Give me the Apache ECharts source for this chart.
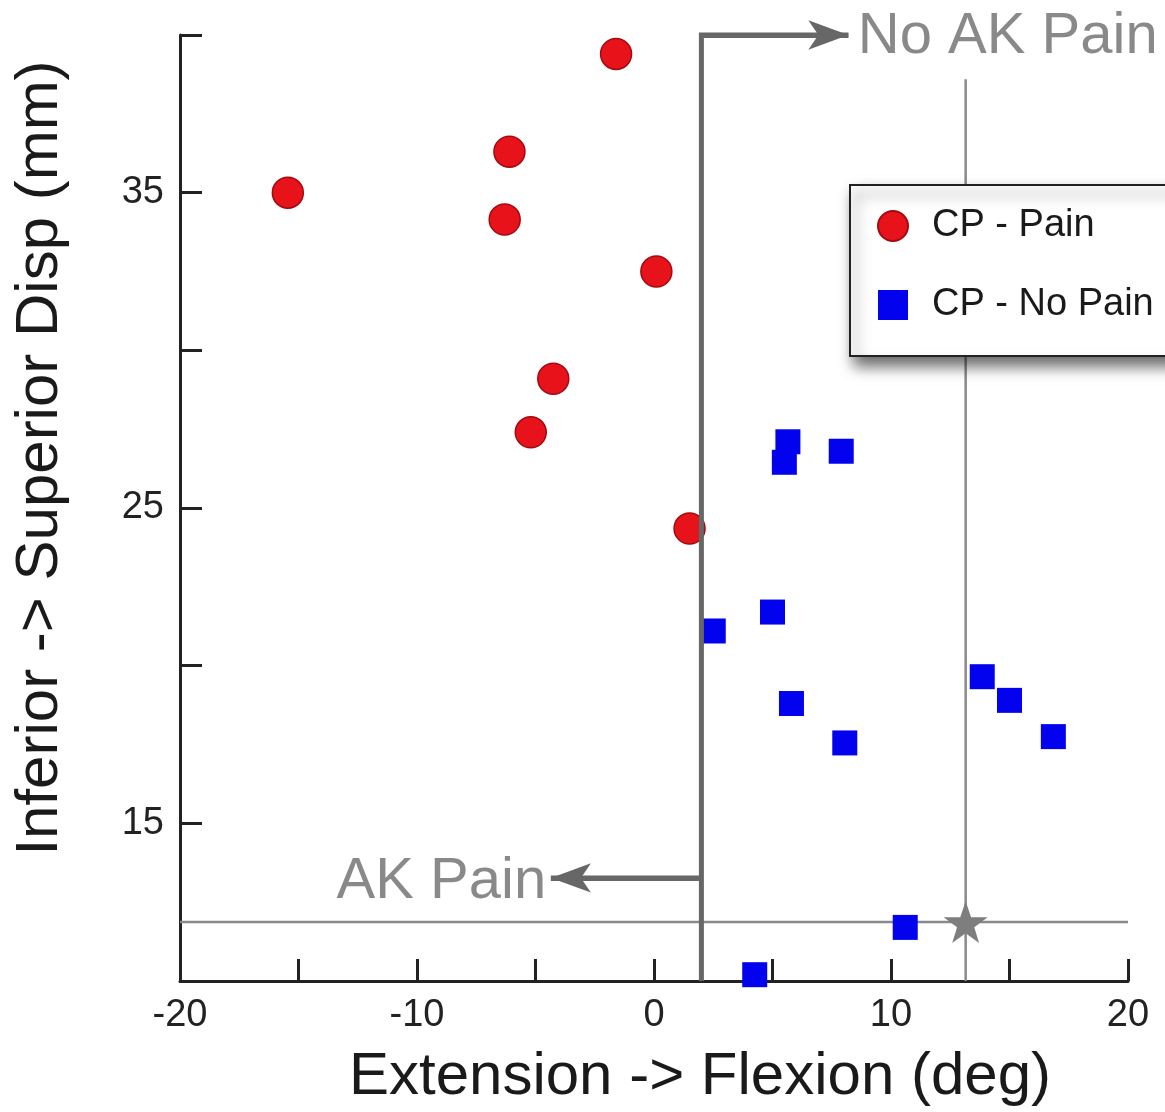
<!DOCTYPE html>
<html>
<head>
<meta charset="utf-8">
<title>CP pain vs flexion</title>
<script src="https://cdn.jsdelivr.net/npm/echarts@6/dist/echarts.min.js"></script>
<style>
  html, body { margin: 0; padding: 0; background: #fff; }
  #chart { width: 1165px; height: 1112px; }
</style>
</head>
<body>
<div id="chart"></div>
<script>
  // [extension -> flexion (deg), inferior -> superior disp (mm)]
  var painPoints = [
    [-1.6, 39.4], [-6.1, 36.3], [-15.45, 35.0], [-6.3, 34.15],
    [0.1, 32.5], [-4.25, 29.1], [-5.2, 27.4], [1.5, 24.35]
  ]
  var noPainPoints = [
    [5.65, 27.1], [5.5, 26.45], [7.9, 26.8], [2.5, 21.1], [5.0, 21.7],
    [5.8, 18.8], [8.05, 17.55], [13.85, 19.65], [15.0, 18.9], [16.85, 17.75],
    [10.6, 11.7], [4.25, 10.2]
  ]
  var starPoint = [[13.15, 11.87]]

  // threshold / annotation lines (arrow tip at the last point)
  var boundaryPath = [[2, 10], [2, 40], [8.2, 40]]
  var akPainArrow = [[2, 13.27], [-4.35, 13.27]]
  var starVertical = [[13.15, 38.6], [13.15, 10]]
  var starHorizontal = [[-20, 11.87], [20, 11.87]]
  var annotations = [
    { name: 'No AK Pain', value: [8.6, 39.93], pos: 'right' },
    { name: 'AK Pain', value: [-4.55, 13.15], pos: 'left' }
  ]

  var xRange = { min: -20, max: 20, interval: 5 }
  var yRange = { min: 10, max: 40, interval: 5 }

  var font = 'Liberation Sans, Arial, sans-serif'
  var lineGray = '#676767'
  var thinGray = '#8a8a8a'

  var starPath = 'path://M50,0 L61.8,35.1 L98.1,35.1 L68.8,56.7 L79.4,90.9 L50,69.8 L20.6,90.9 L31.2,56.7 L1.9,35.1 L38.2,35.1 Z'

  var mychart = echarts.init(document.getElementById('chart'))

  var arrowMark = function (seg) {
    return {
      silent: true,
      animation: false,
      symbol: ['none', 'arrow'],
      symbolSize: [22, 40],
      lineStyle: { color: lineGray, width: 5, type: 'solid' },
      label: { show: false },
      data: [[{ coord: seg[0] }, { coord: seg[1] }]]
    }
  }

  var options = {
    animation: false,
    backgroundColor: '#fff',
    grid: { left: 180, right: 37, top: 35, bottom: 130 },
    legend: {
      data: ['CP - Pain', 'CP - No Pain'],
      orient: 'vertical',
      left: 850,
      top: 185,
      padding: [22, 60, 32, 27],
      itemGap: 41,
      itemWidth: 30,
      itemHeight: 30,
      backgroundColor: '#fff',
      borderColor: '#222',
      borderWidth: 2,
      borderRadius: 0,
      shadowColor: 'rgba(0,0,0,0.6)',
      shadowBlur: 14,
      shadowOffsetX: 5,
      shadowOffsetY: 9,
      textStyle: { fontSize: 38, fontFamily: font, color: '#1a1a1a', lineHeight: 36, padding: [0, 0, 0, 19] }
    },
    xAxis: {
      type: 'value',
      min: xRange.min,
      max: xRange.max,
      interval: xRange.interval,
      name: 'Extension -> Flexion (deg)',
      nameLocation: 'middle',
      nameGap: 66,
      nameTextStyle: { fontSize: 60, fontFamily: font, color: '#1a1a1a', padding: [0, 0, 0, 92] },
      axisLine: { onZero: false, lineStyle: { color: '#222', width: 3 } },
      axisTick: { inside: true, length: 22, lineStyle: { color: '#222', width: 3 } },
      axisLabel: {
        margin: 16,
        fontSize: 38,
        fontFamily: font,
        color: '#222',
        showMinLabel: true,
        showMaxLabel: true,
        formatter: function (v) { return v % 10 === 0 ? String(v) : '' }
      },
      splitLine: { show: false }
    },
    yAxis: {
      type: 'value',
      min: yRange.min,
      max: yRange.max,
      interval: yRange.interval,
      name: 'Inferior -> Superior Disp (mm)',
      nameLocation: 'middle',
      nameGap: 110,
      nameTextStyle: { fontSize: 60, fontFamily: font, color: '#1a1a1a', padding: [0, 0, 0, 100] },
      axisLine: { onZero: false, lineStyle: { color: '#222', width: 3 } },
      axisTick: { inside: true, length: 22, lineStyle: { color: '#222', width: 3 } },
      axisLabel: {
        margin: 16,
        fontSize: 38,
        fontFamily: font,
        color: '#222',
        formatter: function (v) { return Math.abs(v % 10) === 5 ? String(v) : '' }
      },
      splitLine: { show: false }
    },
    series: [
      {
        name: 'starH',
        type: 'line',
        data: starHorizontal,
        symbol: 'none',
        lineStyle: { color: thinGray, width: 2.5 },
        z: 3
      },
      {
        name: 'starV',
        type: 'line',
        data: starVertical,
        symbol: 'none',
        lineStyle: { color: thinGray, width: 2.5 },
        z: 3
      },
      {
        name: 'CP - Pain',
        type: 'scatter',
        data: painPoints,
        symbol: 'circle',
        symbolSize: 31,
        clip: false,
        itemStyle: { color: '#e8121b', borderColor: '#a30a10', borderWidth: 1.5, opacity: 1 },
        z: 4
      },
      {
        name: 'CP - No Pain',
        type: 'scatter',
        data: noPainPoints,
        symbol: 'rect',
        symbolSize: 25,
        clip: false,
        itemStyle: { color: '#0202ee', opacity: 1 },
        z: 4
      },
      {
        name: 'boundary',
        type: 'line',
        data: boundaryPath,
        symbol: 'none',
        clip: false,
        lineStyle: { color: lineGray, width: 5, join: 'miter' },
        markLine: arrowMark([boundaryPath[1], boundaryPath[2]]),
        z: 5
      },
      {
        name: 'akPain',
        type: 'line',
        data: akPainArrow,
        symbol: 'none',
        lineStyle: { color: lineGray, width: 5 },
        markLine: arrowMark(akPainArrow),
        z: 5
      },
      {
        name: 'star',
        type: 'scatter',
        data: starPoint,
        symbol: starPath,
        symbolSize: [44, 42],
        clip: false,
        itemStyle: { color: '#7e7e7e', opacity: 1 },
        z: 6
      },
      {
        name: 'annotations',
        type: 'scatter',
        symbolSize: 0,
        clip: false,
        data: annotations.map(function (a) {
          return {
            name: a.name,
            value: a.value,
            label: {
              show: true,
              position: a.pos,
              distance: 0,
              formatter: '{b}',
              fontSize: 58,
              fontFamily: font,
              color: '#6b6b6b'
            }
          }
        }),
        z: 6
      }
    ]
  }
  mychart.setOption(options)
</script>
</body>
</html>
